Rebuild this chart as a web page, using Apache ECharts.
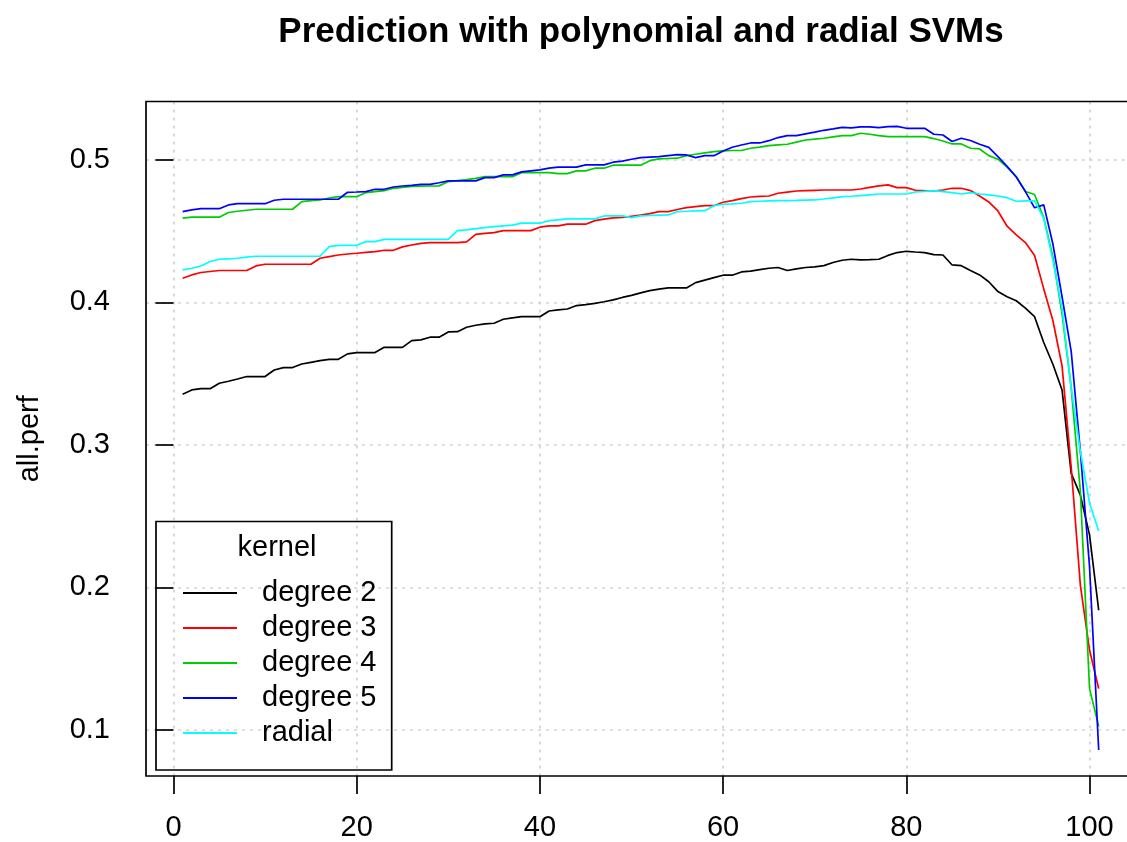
<!DOCTYPE html>
<html><head><meta charset="utf-8">
<script src="https://cdn.jsdelivr.net/npm/echarts@6/dist/echarts.min.js"></script>
<style>html,body{margin:0;padding:0;background:#fff}#c{width:1127px;height:842px}</style>
</head><body><div id="c"></div><script>
const chartTitle = 'Prediction with polynomial and radial SVMs';
const yAxisName = 'all.perf';
const legendTitle = 'kernel';
const xTicks = [0, 20, 40, 60, 80, 100];
const yTicks = [0.1, 0.2, 0.3, 0.4, 0.5];
const seriesNames = ['degree 2', 'degree 3', 'degree 4', 'degree 5', 'radial'];
const seriesColors = ['#000000', '#FF0000', '#00CD00', '#0000FF', '#00FFFF'];

const degree2 = [0.3356,0.3386,0.3395,0.3395,0.3433,0.3447,0.3463,0.3480,0.3480,0.3480,
0.3526,0.3543,0.3543,0.3568,0.3580,0.3592,0.3601,0.3601,0.3639,0.3648,
0.3648,0.3648,0.3685,0.3685,0.3685,0.3732,0.3737,0.3756,0.3756,0.3793,
0.3795,0.3826,0.3840,0.3850,0.3854,0.3882,0.3892,0.3900,0.3900,0.3900,
0.3940,0.3948,0.3954,0.3978,0.3985,0.3994,0.4005,0.4018,0.4035,0.4050,
0.4067,0.4083,0.4093,0.4102,0.4102,0.4102,0.4139,0.4157,0.4174,0.4191,
0.4191,0.4214,0.4220,0.4230,0.4240,0.4245,0.4224,0.4235,0.4245,0.4250,
0.4258,0.4280,0.4296,0.4303,0.4298,0.4300,0.4303,0.4330,0.4350,0.4359,
0.4354,0.4350,0.4336,0.4333,0.4263,0.4258,0.4224,0.4193,0.4145,0.4076,
0.4040,0.4012,0.3960,0.3900,0.3719,0.3566,0.3386,0.2801,0.2648,0.2369,0.1840];

const degree3 = [0.4170,0.4193,0.4210,0.4217,0.4224,0.4224,0.4224,0.4224,0.4256,0.4268,
0.4268,0.4268,0.4268,0.4268,0.4268,0.4310,0.4322,0.4333,0.4340,0.4345,
0.4351,0.4357,0.4366,0.4366,0.4390,0.4403,0.4415,0.4420,0.4420,0.4420,
0.4420,0.4425,0.4478,0.4484,0.4490,0.4504,0.4504,0.4504,0.4504,0.4528,
0.4537,0.4537,0.4549,0.4549,0.4549,0.4574,0.4585,0.4593,0.4597,0.4605,
0.4613,0.4623,0.4637,0.4637,0.4652,0.4665,0.4672,0.4679,0.4679,0.4703,
0.4714,0.4728,0.4740,0.4744,0.4747,0.4766,0.4774,0.4782,0.4785,0.4787,
0.4789,0.4789,0.4789,0.4789,0.4796,0.4808,0.4818,0.4825,0.4806,0.4806,
0.4787,0.4784,0.4782,0.4789,0.4801,0.4801,0.4785,0.4747,0.4705,0.4642,
0.4535,0.4474,0.4420,0.4330,0.4095,0.3873,0.3555,0.2842,0.2015,0.1561,0.1290];

const degree4 = [0.4591,0.4598,0.4598,0.4598,0.4598,0.4631,0.4640,0.4647,0.4654,0.4654,
0.4654,0.4654,0.4654,0.4708,0.4715,0.4719,0.4733,0.4742,0.4742,0.4742,
0.4771,0.4778,0.4785,0.4801,0.4808,0.4815,0.4816,0.4817,0.4818,0.4848,
0.4855,0.4862,0.4871,0.4883,0.4883,0.4883,0.4883,0.4911,0.4911,0.4911,
0.4911,0.4904,0.4904,0.4923,0.4923,0.4942,0.4942,0.4963,0.4963,0.4963,
0.4963,0.4995,0.5007,0.5010,0.5012,0.5030,0.5040,0.5050,0.5058,0.5063,
0.5066,0.5066,0.5082,0.5090,0.5100,0.5105,0.5110,0.5125,0.5140,0.5146,
0.5152,0.5162,0.5171,0.5171,0.5187,0.5180,0.5170,0.5164,0.5164,0.5164,
0.5164,0.5164,0.5150,0.5133,0.5112,0.5112,0.5082,0.5077,0.5030,0.5005,
0.4950,0.4883,0.4778,0.4757,0.4595,0.4320,0.3920,0.3400,0.2675,0.1290,0.1025];

const degree5 = [0.4637,0.4649,0.4658,0.4658,0.4658,0.4684,0.4693,0.4693,0.4693,0.4693,
0.4717,0.4724,0.4724,0.4724,0.4724,0.4724,0.4724,0.4724,0.4773,0.4775,
0.4778,0.4794,0.4794,0.4810,0.4817,0.4822,0.4829,0.4829,0.4840,0.4853,
0.4853,0.4853,0.4853,0.4876,0.4876,0.4895,0.4895,0.4916,0.4923,0.4930,
0.4942,0.4949,0.4949,0.4949,0.4965,0.4965,0.4965,0.4984,0.4992,0.5005,
0.5016,0.5020,0.5023,0.5030,0.5037,0.5035,0.5016,0.5030,0.5030,0.5063,
0.5089,0.5105,0.5119,0.5119,0.5135,0.5157,0.5171,0.5171,0.5183,0.5195,
0.5208,0.5218,0.5229,0.5225,0.5232,0.5232,0.5227,0.5234,0.5236,0.5222,
0.5222,0.5222,0.5180,0.5175,0.5129,0.5152,0.5136,0.5110,0.5088,0.5023,
0.4955,0.4880,0.4778,0.4664,0.4685,0.4410,0.4040,0.3655,0.2954,0.2146,0.0860];

const radial = [0.4228,0.4240,0.4256,0.4287,0.4303,0.4305,0.4310,0.4318,0.4324,0.4324,
0.4324,0.4324,0.4324,0.4324,0.4324,0.4324,0.4392,0.4401,0.4401,0.4401,
0.4427,0.4427,0.4443,0.4443,0.4443,0.4443,0.4443,0.4443,0.4443,0.4443,
0.4504,0.4509,0.4518,0.4525,0.4532,0.4537,0.4542,0.4556,0.4556,0.4556,
0.4574,0.4580,0.4586,0.4586,0.4586,0.4586,0.4607,0.4607,0.4607,0.4595,
0.4607,0.4610,0.4612,0.4614,0.4637,0.4640,0.4642,0.4644,0.4679,0.4689,
0.4692,0.4696,0.4708,0.4710,0.4712,0.4714,0.4715,0.4716,0.4718,0.4719,
0.4726,0.4734,0.4742,0.4745,0.4749,0.4755,0.4761,0.4761,0.4761,0.4761,
0.4775,0.4780,0.4785,0.4778,0.4770,0.4761,0.4771,0.4761,0.4755,0.4747,
0.4735,0.4710,0.4712,0.4712,0.4590,0.4295,0.3957,0.3400,0.2954,0.2592,0.2396];

const allSeries = [degree2, degree3, degree4, degree5, radial];
const FONT = '"Liberation Sans", Arial, Helvetica, sans-serif';

const chart = echarts.init(document.getElementById('c'), null, {renderer: 'canvas'});
const gridLine = {show: true, lineStyle: {color: '#d3d3d3', width: 1.7, type: [3, 5]}};
chart.setOption({
  animation: false,
  backgroundColor: '#ffffff',
  title: {
    text: chartTitle, left: 641, top: 15, textAlign: 'center', padding: 0,
    textStyle: {fontFamily: FONT, fontSize: 35, fontWeight: 'bold', color: '#000'}
  },
  grid: {left: 146, top: 101.5, width: 982, height: 674.5, show: false},
  xAxis: {
    type: 'value', min: -3, max: 104.09,
    axisLine: {show: false},
    axisTick: {show: true, length: 18, customValues: xTicks, lineStyle: {color: '#000', width: 1.7}},
    axisLabel: {customValues: xTicks, margin: 37, fontFamily: FONT, fontSize: 29, color: '#000'},
    splitLine: gridLine
  },
  yAxis: {
    type: 'value', min: 0.0677, max: 0.541,
    name: yAxisName, nameLocation: 'middle', nameGap: 102,
    nameTextStyle: {fontFamily: FONT, fontSize: 29, color: '#000'},
    axisLine: {show: false},
    axisTick: {show: true, length: 18, customValues: yTicks, lineStyle: {color: '#000', width: 1.7}},
    axisLabel: {customValues: yTicks, margin: 36, fontFamily: FONT, fontSize: 29, color: '#000',
      formatter: v => v.toFixed(1)},
    splitLine: gridLine
  },
  legend: {
    orient: 'vertical', left: 183, top: 575.5, padding: 0,
    icon: 'rect', itemWidth: 54, itemHeight: 2, itemGap: 0,
    textStyle: {fontFamily: FONT, fontSize: 29, color: '#000', lineHeight: 35, padding: [0, 0, 0, 20]},
    data: seriesNames
  },
  graphic: [
    {type: 'polyline', shape: {points: [[1140, 101.5], [146, 101.5], [146, 776], [1140, 776]]},
      style: {stroke: '#000', lineWidth: 1.7, fill: null}, z: 10},
    {type: 'rect', shape: {x: 156, y: 521.5, width: 235.7, height: 248.5},
      style: {stroke: '#000', lineWidth: 1.7, fill: null}, z: 10},
    {type: 'text', x: 277, y: 548, style: {text: legendTitle, textAlign: 'center', textVerticalAlign: 'middle',
      font: '29px ' + FONT, fill: '#000'}, z: 10}
  ],
  series: allSeries.map((vals, k) => ({
    name: seriesNames[k], type: 'line', symbol: 'none', showSymbol: false,
    data: vals.map((v, i) => [i + 1, v]),
    lineStyle: {color: seriesColors[k], width: 1.7},
    itemStyle: {color: seriesColors[k]},
    emphasis: {disabled: true}
  }))
});
</script></body></html>
